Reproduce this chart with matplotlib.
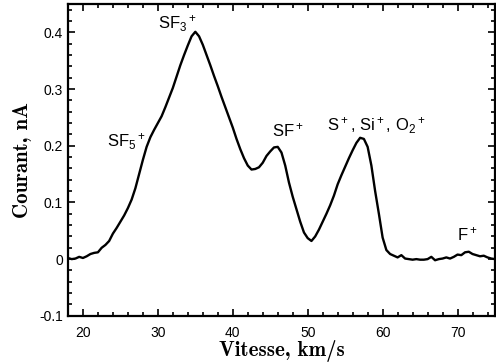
import matplotlib
matplotlib.use("Agg")
import matplotlib.pyplot as plt
from matplotlib.ticker import MultipleLocator

# vitesse (km/s) et courant (nA)
vitesse = [18, 18.5, 19, 19.5, 20, 20.5, 21, 21.5, 22, 22.5, 23, 23.5, 24, 24.5,
           25, 25.5, 26, 26.5, 27, 27.5, 28, 28.5, 29, 29.5, 30, 30.5, 31, 31.5,
           32, 32.5, 33, 33.5, 34, 34.5, 35, 35.5, 36, 36.5, 37, 37.5, 38, 38.5,
           39, 39.5, 40, 40.5, 41, 41.5, 42, 42.5, 43, 43.5, 44, 44.5, 45, 45.5,
           46, 46.5, 47, 47.5, 48, 48.5, 49, 49.5, 50, 50.5, 51, 51.5, 52, 52.5,
           53, 53.5, 54, 54.5, 55, 55.5, 56, 56.5, 57, 57.5, 58, 58.5, 59, 59.5,
           60, 60.5, 61, 61.5, 62, 62.5, 63, 63.5, 64, 64.5, 65, 65.5, 66, 66.5,
           67, 67.5, 68, 68.5, 69, 69.5, 70, 70.5, 71, 71.5, 72, 72.5, 73, 73.5,
           74, 74.5, 75]
courant = [0.002, 0.0, 0.001, 0.004, 0.002, 0.005, 0.009, 0.011, 0.012, 0.02,
           0.025, 0.032, 0.045, 0.055, 0.066, 0.077, 0.09, 0.105, 0.125, 0.15,
           0.175, 0.198, 0.215, 0.228, 0.24, 0.252, 0.268, 0.285, 0.302, 0.322,
           0.342, 0.36, 0.377, 0.393, 0.401, 0.393, 0.378, 0.36, 0.342, 0.323,
           0.305, 0.286, 0.268, 0.25, 0.232, 0.212, 0.194, 0.178, 0.165, 0.158,
           0.159, 0.162, 0.17, 0.182, 0.19, 0.197, 0.198, 0.188, 0.165, 0.135,
           0.11, 0.088, 0.066, 0.047, 0.037, 0.032, 0.04, 0.052, 0.066, 0.08,
           0.095, 0.112, 0.132, 0.148, 0.163, 0.178, 0.192, 0.205, 0.214, 0.212,
           0.198, 0.165, 0.12, 0.08, 0.038, 0.016, 0.009, 0.006, 0.003, 0.007,
           0.001, 0.0, -0.001, 0.0, -0.001, -0.001, 0.0, 0.004, -0.002, 0.0,
           0.001, 0.003, 0.001, 0.004, 0.008, 0.007, 0.012, 0.013, 0.009, 0.007,
           0.005, 0.006, 0.003, 0.001, 0.0]

# étiquettes des pics (coin gauche, ligne de base)
pics = ['SF$_5$$^+$', 'SF$_3$$^+$', 'SF$^+$', 'S$^+$, Si$^+$, O$_2$$^+$', 'F$^+$']
pics_x = [23.2, 30.0, 45.3, 52.6, 69.9]
pics_y = [0.199, 0.406, 0.217, 0.226, 0.034]

xticks = [20, 30, 40, 50, 60, 70]
yticks = [-0.1, 0, 0.1, 0.2, 0.3, 0.4]
ytick_labels = ['-0.1', '0', '0.1', '0.2', '0.3', '0.4']

plt.rcParams['font.family'] = ['Liberation Sans', 'DejaVu Sans']
plt.rcParams['mathtext.default'] = 'regular'

fig = plt.figure(figsize=(4.96, 3.63), dpi=100)
ax = fig.add_axes([0.137, 0.13, 0.861, 0.859])

ax.plot(vitesse, courant, color='black', lw=1.7)

for txt, x, y in zip(pics, pics_x, pics_y):
    ax.text(x, y, txt, fontsize=12, ha='left', va='baseline')

ax.set_xlim(18, 75)
ax.set_ylim(-0.1, 0.45)
ax.set_xticks(xticks)
ax.set_yticks(yticks)
ax.set_yticklabels(ytick_labels)
ax.xaxis.set_minor_locator(MultipleLocator(2))
ax.yaxis.set_minor_locator(MultipleLocator(0.02))
ax.tick_params(which='both', direction='in', top=True, right=True, labelsize=10, width=1.2)
ax.tick_params(which='major', length=5)
ax.tick_params(which='minor', length=3)
ax.tick_params(axis='x', which='major', pad=7)
for s in ax.spines.values():
    s.set_linewidth(1.6)

ax.set_xlabel('Vitesse, km/s', family='cmb10', fontsize=15, labelpad=0)
ax.set_ylabel('Courant, nA', family='cmb10', fontsize=15, labelpad=5)

fig.savefig('out.png', dpi=100)
